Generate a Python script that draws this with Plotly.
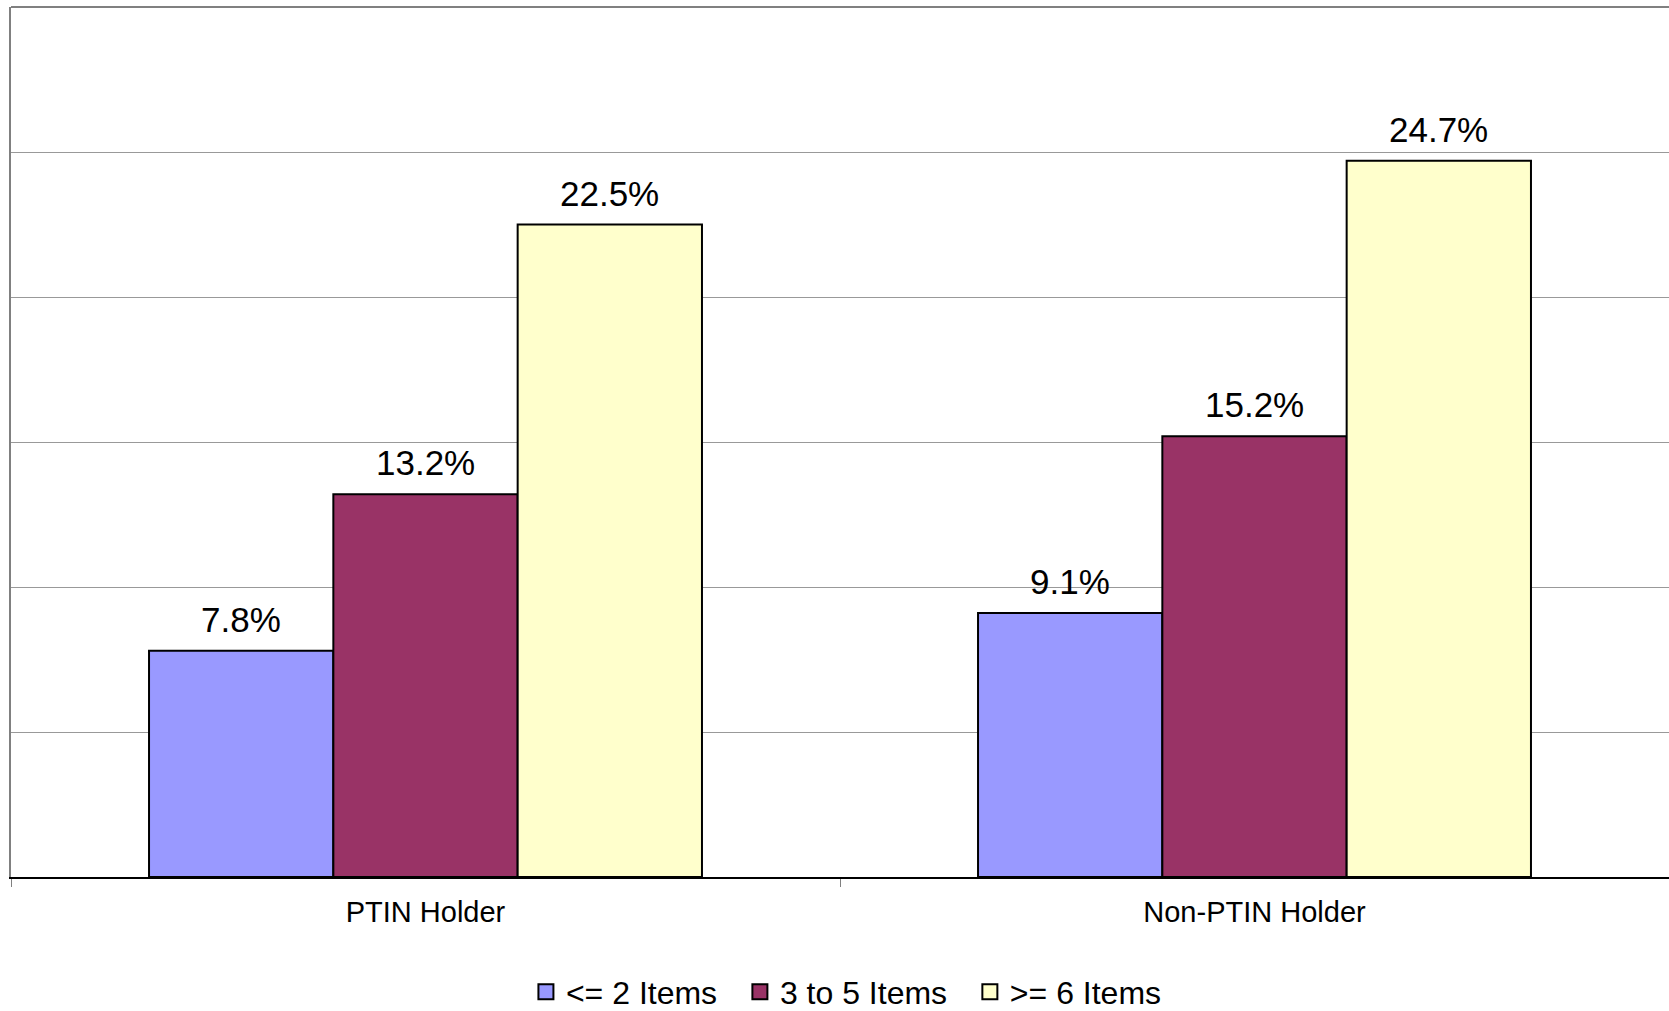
import plotly.graph_objects as go

# Share of returns by number of items, PTIN holders vs non-PTIN holders
categories = ["PTIN Holder", "Non-PTIN Holder"]
series_names = ["<= 2 Items", "3 to 5 Items", ">= 6 Items"]
series_values = [
    [7.8, 9.1],
    [13.2, 15.2],
    [22.5, 24.7],
]
series_colors = ["#9999FF", "#993366", "#FFFFCC"]

FONT = "Liberation Sans, Arial, sans-serif"
NBSP = "\u00a0"

fig = go.Figure()

for name, vals, color in zip(series_names, series_values, series_colors):
    fig.add_trace(go.Bar(
        name=name,
        x=categories,
        y=vals,
        marker=dict(color=color, line=dict(color="#000000", width=2)),
        showlegend=False,
        offsetgroup=name,
    ))

# Legend entries with square swatches (padded so entries sit further apart)
for name, color in zip(series_names, series_colors):
    fig.add_trace(go.Scatter(
        name=name + NBSP * 2,
        x=[None], y=[None],
        mode="markers",
        marker=dict(symbol="square", size=15, color=color,
                    line=dict(color="#000000", width=2)),
        showlegend=True,
    ))

# Value labels above each bar
n = len(series_names)
group_width = 1 - 0.333
bar_w = group_width / n
for i, vals in enumerate(series_values):
    for j, v in enumerate(vals):
        xpos = j - group_width / 2 + bar_w * (i + 0.5)
        fig.add_annotation(
            x=xpos, y=v, xref="x", yref="y",
            text=f"{v:.1f}%",
            showarrow=False,
            yanchor="bottom",
            yshift=10,
            font=dict(family=FONT, size=35, color="#000000"),
        )

# Top border of the plot area
fig.add_shape(type="line", xref="paper", yref="paper",
              x0=0, x1=1, y0=1, y1=1,
              line=dict(color="#808080", width=2))

fig.update_layout(
    width=1669, height=1011,
    margin=dict(l=11, r=0, t=7, b=134, autoexpand=False),
    paper_bgcolor="#FFFFFF",
    plot_bgcolor="#FFFFFF",
    barmode="group",
    bargap=0.333,
    bargroupgap=0,
    font=dict(family=FONT, color="#000000"),
    showlegend=True,
    legend=dict(
        orientation="h",
        x=0.509, xanchor="center",
        y=-0.1322, yanchor="middle",
        font=dict(family=FONT, size=32, color="#000000"),
        itemsizing="trace",
        bgcolor="rgba(0,0,0,0)",
    ),
    xaxis=dict(
        type="category",
        range=[-0.5, 1.5],
        showline=True, linecolor="#000000", linewidth=2,
        ticks="outside", tickson="boundaries",
        ticklen=8, tickcolor="#808080", tickwidth=1,
        ticklabelstandoff=8,
        tickfont=dict(family=FONT, size=29, color="#000000"),
        showgrid=False,
        zeroline=False,
    ),
    yaxis=dict(
        range=[0, 30],
        dtick=5,
        showticklabels=False,
        showgrid=True, gridcolor="#999999", gridwidth=1,
        showline=True, linecolor="#808080", linewidth=2,
        ticks="",
        zeroline=False,
    ),
)

fig.write_html("out.html")
